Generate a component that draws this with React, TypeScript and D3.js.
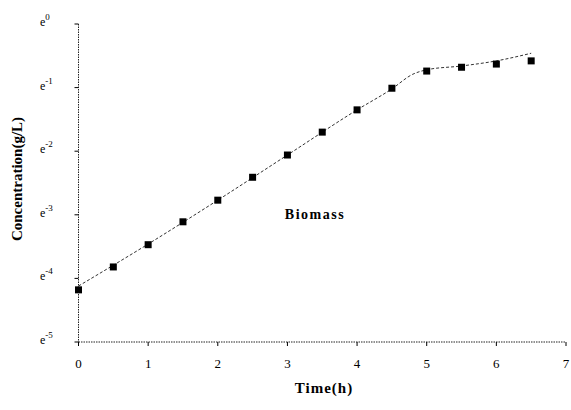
import React from "react";
import { scaleLinear, line, curveMonotoneX } from "d3";

// measured points: time (h) and ln(concentration g/L)
const times = [0, 0.5, 1, 1.5, 2, 2.5, 3, 3.5, 4, 4.5, 5, 5.5, 6, 6.5];
const lnConc = [-4.18, -3.82, -3.47, -3.11, -2.77, -2.41, -2.06, -1.7, -1.35, -1.01, -0.74, -0.68, -0.63, -0.58];

// fitted curve
const fitTimes = [0, 1, 2, 3, 4, 4.5, 4.8, 5, 5.5, 6, 6.5];
const fitLnConc = [-4.12, -3.46, -2.77, -2.06, -1.35, -1.02, -0.79, -0.72, -0.66, -0.58, -0.46];

const xTicks = [0, 1, 2, 3, 4, 5, 6, 7];
const yTicks = [0, -1, -2, -3, -4, -5];
const yTickLabels = ["0", "-1", "-2", "-3", "-4", "-5"];

const App = () => {
  const width = 571;
  const height = 410;
  const font = "'Liberation Serif', 'Times New Roman', serif";

  const x = scaleLinear().domain([0, 7]).range([78.5, 566]);
  const y = scaleLinear().domain([-5, 0]).range([342, 24]);

  const fitPath = line<number>()
    .x((d, i) => x(fitTimes[i]))
    .y((d) => y(d))
    .curve(curveMonotoneX)(fitLnConc);

  return (
    <svg
      width={width}
      height={height}
      viewBox={`0 0 ${width} ${height}`}
      style={{ position: "absolute", left: 0, top: 0, background: "#fff" }}
    >
      {/* axes */}
      <line x1={x(0)} x2={x(7)} y1={y(-5)} y2={y(-5)} stroke="#222" strokeWidth={1} strokeDasharray="1.5 1" />
      <line x1={x(0)} x2={x(0)} y1={y(0)} y2={y(-5)} stroke="#222" strokeWidth={1} strokeDasharray="1.5 1" />

      {xTicks.map((t) => (
        <g key={t}>
          <line x1={x(t)} x2={x(t)} y1={y(-5)} y2={y(-5) + 4} stroke="#000" />
          <text x={x(t)} y={368} textAnchor="middle" fontSize={13} fontFamily={font} fill="#000">
            {t}
          </text>
        </g>
      ))}

      {yTicks.map((t, i) => (
        <g key={t}>
          <line x1={x(0) - 4} x2={x(0)} y1={y(t)} y2={y(t)} stroke="#000" />
          <text x={40} y={y(t) + 2} fontSize={12} fontFamily={font} fill="#000">
            e
            <tspan dy={-6} fontSize={9}>{yTickLabels[i]}</tspan>
          </text>
        </g>
      ))}

      {/* fitted curve */}
      <path d={fitPath ?? ""} fill="none" stroke="#333" strokeWidth={1} strokeDasharray="3 2" />

      {/* data points */}
      {times.map((t, i) => (
        <rect key={t} x={x(t) - 3.5} y={y(lnConc[i]) - 3.5} width={7} height={7} fill="#000" />
      ))}

      <text x={315} y={219} textAnchor="middle" fontSize={14} fontWeight="bold" fontFamily={font} letterSpacing={1.5} fill="#000">
        Biomass
      </text>

      <text x={324} y={393} textAnchor="middle" fontSize={15} fontWeight="bold" fontFamily={font} letterSpacing={1} fill="#000">
        Time(h)
      </text>

      <text
        transform={`translate(22,179) rotate(-90)`}
        textAnchor="middle"
        fontSize={15}
        fontWeight="bold"
        fontFamily={font}
        fill="#000"
      >
        Concentration(g/L)
      </text>
    </svg>
  );
};

export default App;
